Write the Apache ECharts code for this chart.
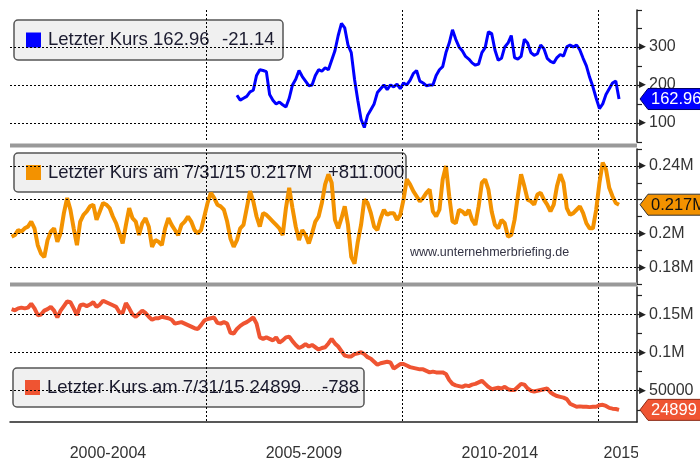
<!DOCTYPE html>
<html>
<head>
<meta charset="utf-8">
<script src="https://cdn.jsdelivr.net/npm/echarts@6/dist/echarts.min.js"></script>
<style>
  html, body { margin: 0; padding: 0; background: #fff; }
  #chart { width: 700px; height: 464px; }
</style>
</head>
<body>
<div id="chart"></div>
<script>
// monthly samples, month 0 = Jan 2000
const START_YEAR = 2000
const BLUE_FIRST_MONTH = 69 // Oct 2005

const blueValues = [
  173, 160, 165, 170, 182, 186, 225, 240, 238, 235,
  175, 160, 150, 155, 148, 142, 165, 200, 215, 238,
  222, 210, 198, 200, 225, 240, 236, 245, 240, 265,
  290, 330, 362, 350, 305, 285, 215, 160, 110, 88,
  120, 135, 150, 180, 190, 200, 188, 200, 195, 202,
  190, 205, 200, 212, 230, 238, 210, 205, 198, 200,
  200, 225, 240, 248, 285, 310, 345, 320, 300, 290,
  275, 268, 258, 252, 255, 285, 298, 340, 335, 292,
  265, 270, 300, 310, 330, 272, 268, 275, 320, 310,
  285, 278, 282, 305, 295, 270, 262, 258, 272, 280,
  276, 300, 305, 300, 305, 292, 270, 250, 220, 195,
  165, 138, 150, 175, 190, 205, 210, 162.96
]

const orangeValues = [
  198000, 199000, 202000, 201000, 203000, 204000, 207000, 203000, 193000, 188000,
  186000, 196000, 201000, 203000, 195000, 200000, 212000, 221000, 214000, 203000,
  193000, 207000, 211000, 213000, 216000, 217000, 208000, 213000, 218000, 217000,
  215000, 210000, 206000, 200000, 194000, 205000, 215000, 209000, 207000, 199000,
  206000, 209000, 204000, 192000, 196000, 195000, 193000, 203000, 209000, 205000,
  202000, 199000, 205000, 207000, 210000, 207000, 202000, 200000, 202000, 210000,
  218000, 224000, 221000, 217000, 216000, 214000, 207000, 197000, 192000, 196000,
  203000, 205000, 215000, 225000, 219000, 210000, 204000, 212000, 211000, 209000,
  207000, 205000, 203000, 199000, 215000, 227000, 215000, 204000, 196000, 202000,
  199000, 194000, 200000, 207000, 210000, 218000, 229000, 235000, 230000, 208000,
  203000, 209000, 216000, 205000, 186000, 182000, 195000, 205000, 220000, 218000,
  212000, 204000, 202000, 209000, 214000, 211000, 212000, 212000, 208000, 211000,
  220000, 232000, 229000, 225000, 222000, 219000, 221000, 224000, 226000, 213000,
  210000, 214000, 232000, 240000, 222000, 207000, 206000, 214000, 213000, 211000,
  214000, 208000, 205000, 216000, 230000, 232000, 226000, 213000, 205000, 203000,
  208000, 206000, 198000, 199000, 208000, 222000, 235000, 228000, 220000, 219000,
  217000, 223000, 224000, 220000, 217000, 213000, 217000, 228000, 235000, 230000,
  215000, 211000, 212000, 214000, 216000, 212000, 206000, 203000, 203000, 214000,
  230000, 242000, 238000, 227000, 222000, 218000, 217000
]

const redValues = [
  157000, 155500, 158000, 159000, 158000, 159000, 164000, 158000, 149000, 150000,
  155000, 157000, 160000, 155000, 146000, 155000, 161000, 167000, 166000, 158000,
  149000, 162000, 163000, 161000, 163000, 166000, 160000, 163000, 168000, 166000,
  164000, 162000, 160000, 153000, 152000, 165000, 158000, 150000, 147000, 151000,
  155000, 152000, 147000, 143000, 145000, 145000, 147000, 146000, 145000, 143000,
  138000, 139000, 140000, 138000, 136000, 134000, 132000, 131000, 136000, 142000,
  144000, 145000, 146000, 139000, 138000, 140000, 138000, 126000, 125000, 131000,
  135000, 138000, 140000, 143000, 146000, 138000, 120000, 118000, 120000, 118000,
  116000, 120000, 113000, 116000, 120000, 121000, 115000, 110000, 106000, 108000,
  111000, 108000, 110000, 107000, 104000, 106000, 107000, 112000, 118000, 112000,
  108000, 102000, 96000, 95000, 95000, 98000, 99000, 100500, 98000, 94000,
  92000, 88000, 84000, 86000, 87000, 88000, 87000, 79000, 82000, 85000,
  85000, 83000, 81000, 80000, 79000, 78000, 78000, 76000, 74000, 75000,
  74000, 74000, 74000, 72000, 64000, 59000, 57000, 56000, 55000, 57000,
  56000, 58000, 59000, 61000, 63000, 59000, 55000, 52000, 53000, 54000,
  53000, 55000, 52000, 51000, 51000, 55000, 59000, 58000, 53000, 50000,
  49000, 50000, 51000, 52000, 53000, 48000, 45000, 43000, 42000, 41000,
  39000, 33000, 31000, 29000, 29500, 29000, 29000, 28500, 29000, 29000,
  31000, 31500, 30000, 27500, 26500, 26000, 24899
]

const priceGrid = [100, 200, 300]
const volumeGrid = [180000, 200000, 220000, 240000]
const volumeLabelValues = [180000, 200000, 240000]
const lowGrid = [50000, 100000, 150000]
const lowTickValues = [25000, 50000, 75000, 100000, 125000, 150000, 175000]

const periodLabels = ['2000-2004', '2005-2009', '2010-2014', '2015']
const periodCenters = [2002.5, 2007.5, 2012.5, 2015.6]

const legendMain = ['Letzter Kurs 162.96', 'Letzter Kurs am 7/31/15 0.217M', 'Letzter Kurs am 7/31/15 24899']
const legendChange = ['-21.14', '+811.000', '-788']
const lastLabels = ['162.96', '0.217M', '24899']

const BLUE = '#0000ff'
const ORANGE = '#f39200'
const RED = '#ef5432'
const FONT = '"Liberation Sans", Arial, sans-serif'
const DOTTED = { color: '#000', width: 1, type: [2, 2] }

function monthToYear(i) {
  return START_YEAR + (i + 0.5) / 12
}

function toPoints(values, firstMonth) {
  return values.map((v, i) => [monthToYear(firstMonth + i), v])
}

function gridLines(values) {
  return {
    silent: true,
    symbol: ['none', 'none'],
    label: { show: false },
    lineStyle: DOTTED,
    emphasis: { disabled: true },
    data: values.map(v => ({ yAxis: v }))
  }
}

function xAxisFor(gridIndex, withLabels) {
  return {
    type: 'value',
    gridIndex,
    min: 2000,
    max: 2016,
    interval: 5,
    axisLine: { show: withLabels, onZero: false, lineStyle: { color: '#222', width: 1.5 } },
    axisTick: { show: false },
    axisLabel: withLabels ? {
      customValues: periodCenters,
      margin: 24,
      fontSize: 16,
      fontFamily: FONT,
      color: '#333',
      formatter: v => periodLabels[periodCenters.indexOf(v)] || ''
    } : { show: false },
    splitLine: { show: true, showMinLine: false, showMaxLine: false, lineStyle: DOTTED }
  }
}

const arrowRich = { a: { fontSize: 9, color: '#222', padding: [0, 3, 0, 0] } }

function yAxisFor(gridIndex, extra) {
  return Object.assign({
    type: 'value',
    gridIndex,
    position: 'right',
    scale: true,
    splitLine: { show: false },
    axisLine: { show: true, onZero: false, lineStyle: { color: '#222', width: 1.5 } },
    axisTick: { show: true, length: 5, lineStyle: { color: '#222', width: 1.2 } }
  }, extra)
}

const chart = echarts.init(document.getElementById('chart'), null, { renderer: 'canvas' })

const option = {
  animation: false,
  backgroundColor: '#fff',
  grid: [
    { left: 10, right: 63, top: 10, height: 132 },
    { left: 10, right: 63, top: 149, height: 135 },
    { left: 10, right: 63, top: 287, height: 135 }
  ],
  xAxis: [xAxisFor(0, false), xAxisFor(1, false), xAxisFor(2, true)],
  yAxis: [
    yAxisFor(0, {
      min: 50, max: 397, interval: 50,
      axisLabel: {
        margin: 2, fontSize: 16, fontFamily: FONT, color: '#333', rich: arrowRich,
        formatter: v => priceGrid.includes(v) ? '{a|▶}' + v : ''
      }
    }),
    yAxisFor(1, {
      min: 170000, max: 250000, interval: 10000,
      axisLabel: {
        margin: 2, fontSize: 16, fontFamily: FONT, color: '#333', rich: arrowRich,
        formatter: v => volumeLabelValues.includes(v) ? '{a|▶}' + (v / 1e6) + 'M' : ''
      }
    }),
    yAxisFor(2, {
      min: 9000, max: 186000,
      axisTick: { show: true, length: 5, customValues: lowTickValues, lineStyle: { color: '#222', width: 1.2 } },
      axisLabel: {
        margin: 2, fontSize: 16, fontFamily: FONT, color: '#333', rich: arrowRich,
        customValues: lowGrid,
        formatter: v => '{a|▶}' + (v >= 100000 ? (v / 1e6) + 'M' : v)
      }
    })
  ],
  series: [
    {
      type: 'line', xAxisIndex: 0, yAxisIndex: 0,
      data: toPoints(blueValues, BLUE_FIRST_MONTH),
      showSymbol: false,
      lineStyle: { color: BLUE, width: 3 },
      markLine: gridLines(priceGrid)
    },
    {
      type: 'line', xAxisIndex: 1, yAxisIndex: 1,
      data: toPoints(orangeValues, 0),
      showSymbol: false,
      lineStyle: { color: ORANGE, width: 4 },
      markLine: gridLines(volumeGrid)
    },
    {
      type: 'line', xAxisIndex: 2, yAxisIndex: 2,
      data: toPoints(redValues, 0),
      showSymbol: false,
      lineStyle: { color: RED, width: 4 },
      markLine: gridLines(lowGrid)
    }
  ]
}

chart.setOption(option)

// legend boxes, separators, last value tags
const boxes = [
  { x: 14, y: 20, w: 269, h: 40, color: BLUE, changeX: 222 },
  { x: 14, y: 153, w: 392, h: 39, color: ORANGE, changeX: 328 },
  { x: 13, y: 368, w: 351, h: 39, color: RED, changeX: 322 }
]

const elements = []

boxes.forEach((b, i) => {
  const cy = b.y + b.h / 2
  elements.push({
    type: 'rect', z: -10,
    shape: { x: b.x, y: b.y, width: b.w, height: b.h, r: 4 },
    style: { fill: '#f0f0f0', stroke: '#555', lineWidth: 1.5 }
  })
  elements.push({
    type: 'rect', z: -9,
    shape: { x: b.x + 12, y: cy - 7.5, width: 15, height: 15 },
    style: { fill: b.color }
  })
  elements.push({
    type: 'text', z: -9,
    style: {
      text: legendMain[i], x: b.x + 34, y: cy, fill: '#1c1c30',
      font: '18.5px ' + FONT, textVerticalAlign: 'middle', verticalAlign: 'middle'
    }
  })
  elements.push({
    type: 'text', z: -9,
    style: {
      text: legendChange[i], x: b.changeX, y: cy, fill: '#1c1c30',
      font: '18.5px ' + FONT, textVerticalAlign: 'middle', verticalAlign: 'middle'
    }
  })
})

elements.push({
  type: 'text', z: -9,
  style: {
    text: 'www.unternehmerbriefing.de', x: 410, y: 253, fill: '#333344',
    font: '12.5px ' + FONT, textVerticalAlign: 'middle', verticalAlign: 'middle'
  }
})

const sepRects = [143.5, 282.5]
sepRects.forEach(y => {
  elements.push({
    type: 'rect', z: 5,
    shape: { x: 10, y, width: 627, height: 4 },
    style: { fill: '#999' }
  })
})

// clip the last period label at the plot edge
elements.push({
  type: 'rect', z: 50,
  shape: { x: 638, y: 436, width: 62, height: 28 },
  style: { fill: '#fff' }
})

const tagStyles = [
  { fill: BLUE, stroke: '#000066', text: '#fff' },
  { fill: ORANGE, stroke: '#333', text: '#111' },
  { fill: RED, stroke: '#8a2a15', text: '#fff' }
]
const lastValues = [blueValues[blueValues.length - 1], orangeValues[orangeValues.length - 1], redValues[redValues.length - 1]]

lastValues.forEach((v, i) => {
  const y = chart.convertToPixel({ yAxisIndex: i }, v)
  const s = tagStyles[i]
  elements.push({
    type: 'polygon', z: 20,
    shape: { points: [[640, y], [648, y - 10.5], [701, y - 10.5], [701, y + 10.5], [648, y + 10.5]] },
    style: { fill: s.fill, stroke: s.stroke, lineWidth: 1 }
  })
  elements.push({
    type: 'text', z: 21,
    style: {
      text: lastLabels[i], x: 651, y: y + 0.5, fill: s.text,
      font: '16.5px ' + FONT, textVerticalAlign: 'middle', verticalAlign: 'middle'
    }
  })
})

chart.setOption({ graphic: { elements } })
</script>
</body>
</html>
